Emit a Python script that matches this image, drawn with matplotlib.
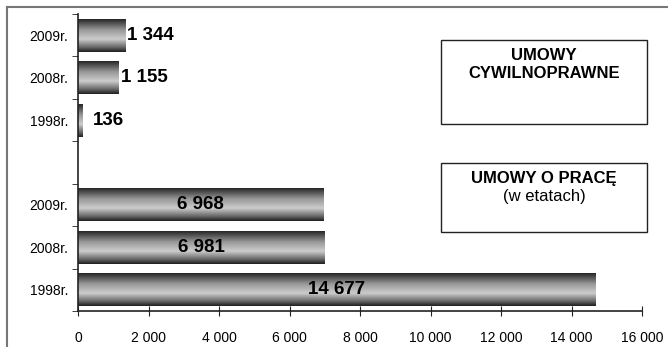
import numpy as np
import matplotlib
matplotlib.use("Agg")
import matplotlib.pyplot as plt
from matplotlib.patches import Rectangle
from matplotlib.lines import Line2D

# dane (od dołu do góry), pusty wiersz rozdziela dwie grupy
labels = ["1998r.", "2008r.", "2009r.", "", "1998r.", "2008r.", "2009r."]
values = [14677, 6981, 6968, None, 136, 1155, 1344]
inside = [True, True, True, False, False, False, False]
xticks = list(range(0, 16001, 2000))

plt.rcParams['font.family'] = ['Liberation Sans', 'DejaVu Sans']

W, H = 668, 347
fig = plt.figure(figsize=(W / 100, H / 100), dpi=100)
ax = fig.add_axes([78 / W, 1 - 311 / H, (642 - 78) / W, (311 - 14) / H])

# gradient "walca" - ciemne brzegi, jasny środek
t = np.linspace(0, 1, 200)
prof = np.interp(t, [0, 0.08, 0.35, 0.62, 0.85, 1], [0.10, 0.22, 0.60, 0.80, 0.42, 0.12])
grad = prof[:, None] * np.ones((1, 2))

bar_h = 0.78
ys = np.arange(len(labels))
for y, v, lab, ins in zip(ys, values, labels, inside):
    if v is None:
        continue
    bar = ax.barh(y, v, height=bar_h, color='none', edgecolor='none')[0]
    im = ax.imshow(grad, cmap='gray', vmin=0, vmax=1, aspect='auto',
                   extent=[0, v, y - bar_h / 2, y + bar_h / 2], origin='upper',
                   interpolation='bilinear', zorder=2)
    im.set_clip_path(bar)
    txt = f"{v:,}".replace(",", " ")
    if ins:
        ax.text(v / 2, y, txt, ha='center', va='center', fontsize=13.5,
                fontweight='bold', zorder=3)
    else:
        ax.annotate(txt, (v, y), xytext=(1.5 if v > 500 else 7, 0),
                    textcoords='offset points', ha='left', va='center',
                    fontsize=13.5, fontweight='bold', zorder=3)

ax.set_xlim(0, 16000)
ax.set_ylim(-0.5, len(labels) - 0.5)
ax.set_xticks(xticks)
ax.set_xticklabels([f"{x:,}".replace(",", " ") for x in xticks], fontsize=10)
ax.set_yticks(ys)
ax.set_yticklabels(labels, fontsize=10)
ax.set_yticks(np.arange(-0.5, len(labels)), minor=True)
ax.tick_params(axis='y', which='major', length=0, pad=7)
ax.tick_params(axis='y', which='minor', length=4, direction='out', color='#222222')
ax.tick_params(axis='x', length=7, direction='inout', pad=11, color='#222222')
for s in ['top', 'right']:
    ax.spines[s].set_visible(False)
for s in ['left', 'bottom']:
    ax.spines[s].set_color('#222222')
    ax.spines[s].set_linewidth(1.2)

# ramka wykresu (górna i lewa krawędź widoczne)
def px(x, y):
    return x / W, 1 - y / H

for (x0, y0), (x1, y1) in [((7, 7), (668, 7)), ((7, 7), (7, 347))]:
    a, b = px(x0, y0)
    c, d = px(x1, y1)
    fig.add_artist(Line2D([a, c], [b, d], color='#777777', lw=1.5))

# opisy grup
boxes = [
    ((441, 40, 647, 124), [("UMOWY", 56, 'bold'), ("CYWILNOPRAWNE", 74, 'bold')]),
    ((441, 163, 647, 232), [("UMOWY O PRACĘ", 178, 'bold'), ("(w etatach)", 197, 'normal')]),
]
for (x0, y0, x1, y1), lines in boxes:
    a, b = px(x0, y1)
    fig.add_artist(Rectangle((a, b), (x1 - x0) / W, (y1 - y0) / H,
                             transform=fig.transFigure, facecolor='white',
                             edgecolor='#222222', lw=1.0))
    for s, yy, w in lines:
        fig.text((x0 + x1) / 2 / W, 1 - yy / H, s, ha='center', va='center',
                 fontsize=12, fontweight=w)

fig.savefig("out.png", dpi=100)
